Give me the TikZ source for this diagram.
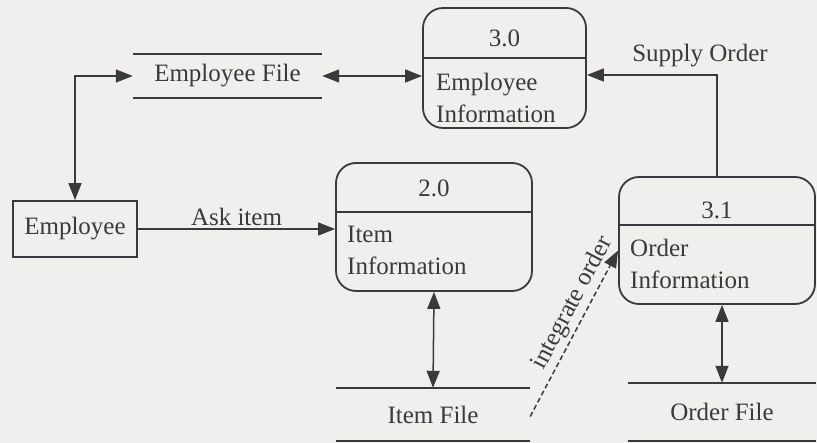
\documentclass[tikz,border=0pt]{standalone}
\usepackage{fontspec}
\newfontfamily\dfdfont{LiberationSerif}[Extension=.ttf,UprightFont=*-Regular]
\usetikzlibrary{arrows.meta,calc}
\definecolor{paper}{RGB}{241,239,238}
\definecolor{ink}{RGB}{58,58,60}
\begin{document}
\begin{tikzpicture}[x=1pt,y=-1pt,
  every node/.style={text=ink,font=\dfdfont\fontsize{25}{32}\selectfont},
  proc/.style={draw=ink,line width=1.8pt,rounded corners=20pt,inner sep=0pt},
  ent/.style={draw=ink,line width=1.8pt,inner sep=0pt},
  store/.style={inner sep=0pt},
  storeline/.style={draw=ink,line width=2.2pt},
  flow/.style={draw=ink,line width=1.5pt,
    arrows={-Triangle[length=17pt,width=13pt]}},
  flow2/.style={flow,arrows={Triangle[length=17pt,width=13pt]-Triangle[length=17pt,width=13pt]}},
  desc/.style={anchor=west,align=left,inner sep=0pt}
]
% canvas
\fill[paper] (0,0) rectangle (817,443);
\useasboundingbox (0,0) rectangle (817,443);

% external entity
\node[ent,minimum width=124pt,minimum height=56pt] (emp) at (75,229) {Employee};

% processes
\node[proc,minimum width=163pt,minimum height=120pt] (p30) at (504.5,68) {};
\node[proc,minimum width=196pt,minimum height=128pt] (p20) at (434,227) {};
\node[proc,minimum width=196pt,minimum height=127pt] (p31) at (717,240.5) {};

% process dividers
\draw[draw=ink,line width=1.8pt] (p30.west |- 0,58) -- (p30.east |- 0,58);
\draw[draw=ink,line width=1.8pt] (p20.west |- 0,212) -- (p20.east |- 0,212);
\draw[draw=ink,line width=1.8pt] (p31.west |- 0,225) -- (p31.east |- 0,225);

% process labels
\node (n30) at (504.5,38) {3.0};
\node[desc] (d30) at (436,98) {Employee\\Information};
\node (n20) at (434,188) {2.0};
\node[desc] (d20) at (347,250) {Item\\Information};
\node (n31) at (717,210) {3.1};
\node[desc] (d31) at (630,264) {Order\\Information};

% data stores
\node[store,minimum width=189pt,minimum height=44pt] (ef) at (227.5,76) {Employee File};
\node[store,minimum width=194pt,minimum height=53pt] (itf) at (433,414.5) {Item File};
\node[store,minimum width=188pt,minimum height=58pt] (of) at (722,412) {Order File};
\foreach \s in {ef,itf,of}{
  \draw[storeline] (\s.north west) -- (\s.north east);
  \draw[storeline] (\s.south west) -- (\s.south east);
}

% data flows
\draw[flow2] (emp.north) |- (ef.west);
\draw[flow2] (ef.east) -- (ef.east -| p30.west);
\draw[flow] (p31.north) |- ([yshift=-7pt]p30.east);
\node[anchor=base] (lso) at (700,62) {Supply Order};
\draw[flow] (emp.east) -- (emp.east -| p20.west)
  node[midway,anchor=base,yshift=3pt] (lask) {Ask item};
\draw[flow2] (p20.south) -- (itf.north);
\draw[flow2] (of.north) -- (of.north |- p31.south);
\draw[flow,dash pattern=on 5pt off 3pt] ([yshift=-2pt]itf.east) -- ([yshift=-10pt]p31.west)
  node[pos=0.64,sloped,above=0pt] (lint) {integrate order};
\end{tikzpicture}
\end{document}
